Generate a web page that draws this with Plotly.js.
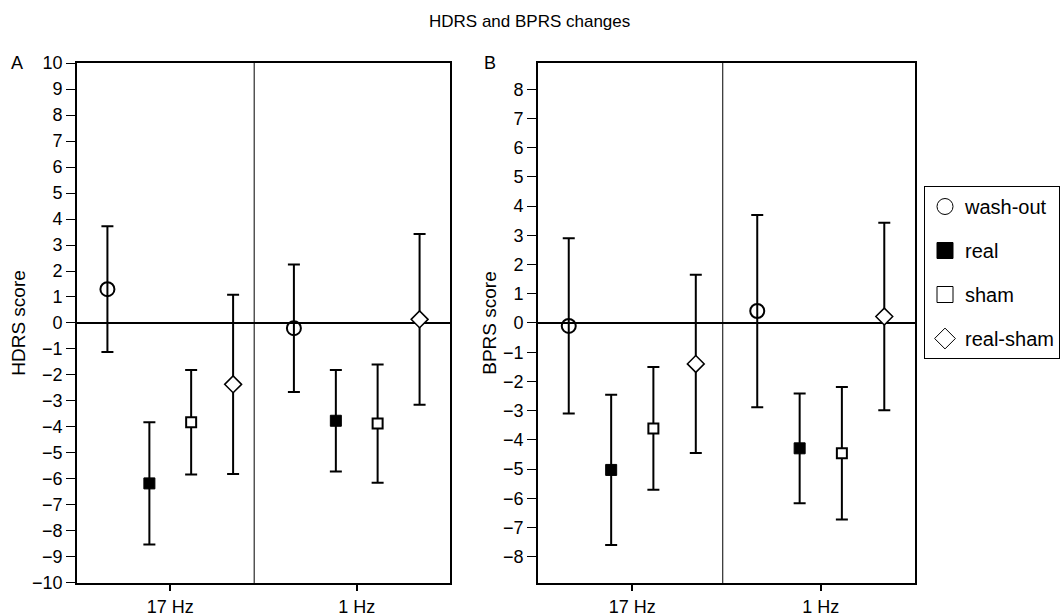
<!DOCTYPE html>
<html>
<head>
<meta charset="utf-8">
<script src="https://cdn.plot.ly/plotly-3.0.1.min.js"></script>
<style>html,body{margin:0;padding:0;background:#fff;}#chart{width:1061px;height:616px;}</style>
</head>
<body>
<div id="chart"></div>
<script>
// ---- data ----
var categories = ['17 Hz', '1 Hz'];
var seriesNames = ['wash-out', 'real', 'sham', 'real-sham'];

var hdrsWashout = [1.30, -0.20];
var hdrsWashoutErr = [2.42, 2.45];
var hdrsReal = [-6.17, -3.76];
var hdrsRealErr = [2.35, 1.95];
var hdrsSham = [-3.82, -3.87];
var hdrsShamErr = [2.01, 2.27];
var hdrsRealSham = [-2.36, 0.14];
var hdrsRealShamErr = [3.45, 3.28];

var bprsWashout = [-0.10, 0.41];
var bprsWashoutErr = [3.00, 3.29];
var bprsReal = [-5.03, -4.29];
var bprsRealErr = [2.57, 1.88];
var bprsSham = [-3.61, -4.46];
var bprsShamErr = [2.10, 2.27];
var bprsRealSham = [-1.40, 0.22];
var bprsRealShamErr = [3.05, 3.21];

var hdrsTicks = [-10,-9,-8,-7,-6,-5,-4,-3,-2,-1,0,1,2,3,4,5,6,7,8,9,10];
var bprsTicks = [-8,-7,-6,-5,-4,-3,-2,-1,0,1,2,3,4,5,6,7,8];

// ---- styles ----
var FONT = 'Liberation Sans, Arial, Helvetica, sans-serif';
var offsets = [-0.337, -0.112, 0.112, 0.337];
var markerStyles = [
  {symbol: 'circle-open', size: 14, color: 'black', line: {color: 'black', width: 2}},
  {symbol: 'square', size: 11, color: 'black', line: {color: 'black', width: 1}},
  {symbol: 'square', size: 10, color: 'white', line: {color: 'black', width: 2}},
  {symbol: 'diamond', size: 13, color: 'white', line: {color: 'black', width: 1.5}}
];
var legendStyles = [
  {symbol: 'circle-open', size: 22, color: 'black', line: {color: 'black', width: 1}},
  {symbol: 'square', size: 20, color: 'black', line: {color: 'black', width: 1}},
  {symbol: 'square-open', size: 20, color: 'black', line: {color: 'black', width: 1}},
  {symbol: 'diamond-open', size: 25, color: 'black', line: {color: 'black', width: 1}}
];

function xs(k) {
  return categories.map(function (c, i) { return i + 1 + offsets[k]; });
}

var hdrsMeans = [hdrsWashout, hdrsReal, hdrsSham, hdrsRealSham];
var hdrsErrs = [hdrsWashoutErr, hdrsRealErr, hdrsShamErr, hdrsRealShamErr];
var bprsMeans = [bprsWashout, bprsReal, bprsSham, bprsRealSham];
var bprsErrs = [bprsWashoutErr, bprsRealErr, bprsShamErr, bprsRealShamErr];

var traces = [];
function addPanel(means, errs, xa, ya) {
  for (var k = 0; k < 4; k++) {
    traces.push({
      type: 'scatter', mode: 'markers',
      x: xs(k), y: means[k],
      xaxis: xa, yaxis: ya,
      showlegend: false,
      hoverinfo: 'x+y',
      marker: markerStyles[k],
      error_y: {type: 'data', array: errs[k], visible: true, color: 'black', thickness: 2, width: 6}
    });
  }
}
addPanel(hdrsMeans, hdrsErrs, 'x', 'y');
addPanel(bprsMeans, bprsErrs, 'x2', 'y2');

for (var k = 0; k < 4; k++) {
  traces.push({
    type: 'scatter', mode: 'markers',
    x: [null], y: [null],
    xaxis: 'x', yaxis: 'y',
    name: seriesNames[k],
    legendgroup: 'g' + k,
    showlegend: true,
    marker: legendStyles[k]
  });
}

function xaxisDef(domain) {
  return {
    domain: domain, range: [0.5, 2.5],
    tickmode: 'array', tickvals: [1, 2], ticktext: categories,
    ticks: 'outside', ticklen: 6, tickwidth: 2, tickcolor: 'black',
    showline: true, linewidth: 2, linecolor: 'black', mirror: true,
    showgrid: false, zeroline: false,
    tickfont: {family: FONT, size: 18, color: 'black'}
  };
}
function yaxisDef(range, ticks, title, anchor) {
  return {
    domain: [0.0536, 0.8977], range: range, anchor: anchor,
    tickmode: 'array', tickvals: ticks,
    ticks: 'outside', ticklen: 9, tickwidth: 1, tickcolor: 'black',
    showline: true, linewidth: 2, linecolor: 'black', mirror: true,
    showgrid: false, zeroline: true, zerolinewidth: 2, zerolinecolor: 'black',
    tickfont: {family: FONT, size: 18, color: 'black'},
    title: {text: title, font: {family: FONT, size: 19, color: 'black'}, standoff: 1}
  };
}

var layout = {
  width: 1061, height: 616,
  margin: {l: 0, r: 0, t: 0, b: 0},
  paper_bgcolor: 'white', plot_bgcolor: 'white',
  font: {family: FONT, color: 'black'},
  showlegend: true,
  xaxis: Object.assign(xaxisDef([0.0726, 0.4241]), {anchor: 'y'}),
  yaxis: yaxisDef([-10, 10], hdrsTicks, 'HDRS score', 'x'),
  xaxis2: Object.assign(xaxisDef([0.5071, 0.8624]), {anchor: 'y2'}),
  yaxis2: yaxisDef([-8.9, 8.9], bprsTicks, 'BPRS score', 'x2'),
  legend: {
    x: 924/1061, y: 1 - 186/616, xanchor: 'left', yanchor: 'top',
    bordercolor: 'black', borderwidth: 1,
    font: {family: FONT, size: 20, color: 'black'},
    traceorder: 'grouped', tracegroupgap: 15,
    itemsizing: 'trace'
  },
  shapes: [
    {type: 'line', xref: 'x', yref: 'y domain', x0: 1.45, x1: 1.45, y0: 0, y1: 1, line: {color: 'black', width: 1}},
    {type: 'line', xref: 'x2', yref: 'y2 domain', x0: 1.48, x1: 1.48, y0: 0, y1: 1, line: {color: 'black', width: 1}}
  ],
  annotations: [
    {text: 'HDRS and BPRS changes', xref: 'paper', yref: 'paper', x: 0.4995, y: 1 - 22/616, xanchor: 'center', yanchor: 'middle', showarrow: false, font: {family: FONT, size: 17, color: 'black'}},
    {text: 'A', xref: 'paper', yref: 'paper', x: 17/1061, y: 1 - 63/616, xanchor: 'center', yanchor: 'middle', showarrow: false, font: {family: FONT, size: 18, color: 'black'}},
    {text: 'B', xref: 'paper', yref: 'paper', x: 490/1061, y: 1 - 63/616, xanchor: 'center', yanchor: 'middle', showarrow: false, font: {family: FONT, size: 18, color: 'black'}}
  ]
};

Plotly.newPlot('chart', traces, layout, {displayModeBar: false, staticPlot: true});
</script>
</body>
</html>
